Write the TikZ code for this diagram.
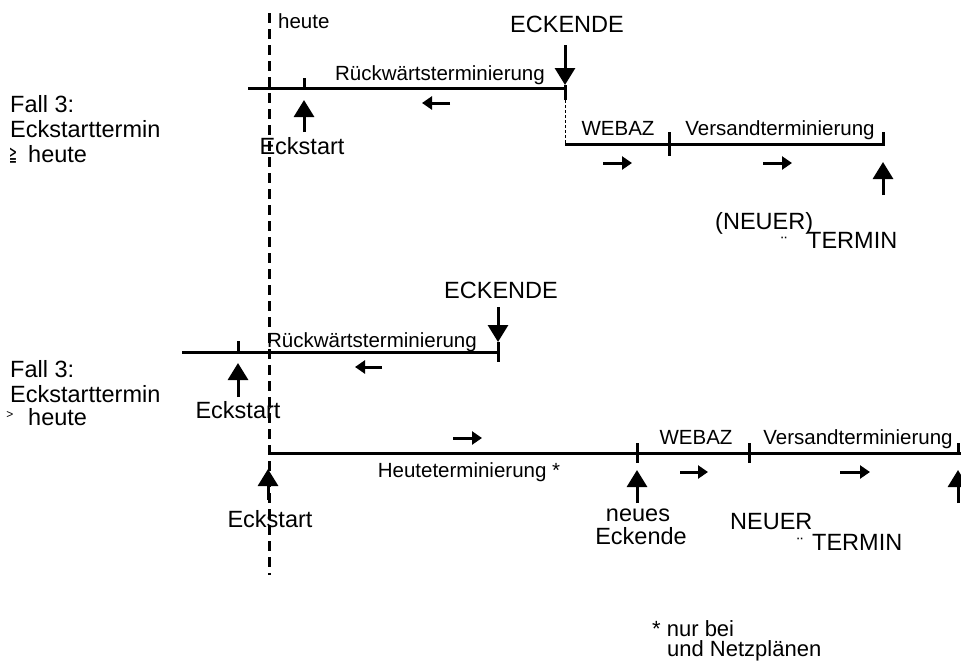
\documentclass[tikz,border=0pt]{standalone}
\usepackage{fontspec}
\setmainfont{Liberation Sans}
\newfontfamily\zeichen{DejaVu Sans}
\usetikzlibrary{positioning,arrows.meta}

\tikzset{
  zeitachse/.style={line width=3pt},
  heutelinie/.style={line width=3pt,dash pattern=on 10pt off 6pt},
  hilfslinie/.style={line width=1pt,dash pattern=on 3pt off 2pt},
  termin/.style={line width=3pt,-{Triangle[width=20pt,length=17pt]}},
  richtung/.style={line width=3pt,-{Triangle[width=13pt,length=10pt]}},
  gross/.style={inner sep=0pt,font=\fontsize{23.5}{25}\selectfont},
  klein/.style={inner sep=0pt,font=\fontsize{20.5}{22}\selectfont},
  fussnote/.style={inner sep=0pt,font=\fontsize{22}{22}\selectfont},
  punkte/.style={inner sep=0pt,font=\fontsize{18}{18}\selectfont},
}

\begin{document}
\begin{tikzpicture}[x=1pt,y=-1pt]
\useasboundingbox (0,0) rectangle (961,665);

\coordinate (h0) at (269,13);
\coordinate (h1) at (269,575);
\path[draw,heutelinie] (h0) -- (h1);
\node[klein,anchor=base west] (heute) at (278,28) {heute};

% Fall 3 oben
\node[gross,anchor=base west] (fall1) at (10,112) {Fall 3:};
\node[gross,anchor=base west] (est1) at (10,137) {Eckstarttermin};
\node[gross,anchor=base west] (heute1) at (28,162) {heute};
\node[inner sep=0pt,anchor=base] (ge1) at (13,161) {\zeichen\fontsize{21}{21}\selectfont\scalebox{0.45}[1]{≧}};

\coordinate (r1) at (248,88);
\coordinate (es1) at (304,88);
\coordinate (ee1) at (565,88);
\path[draw,zeitachse] (r1) -- (ee1);
\path[draw,zeitachse] (es1) -- ++(0,-10);
\path[draw,zeitachse] (565,85) -- (565,100);
\node[gross,anchor=base] (eckende1) at (567,32) {ECKENDE};
\coordinate (ee1o) at (565,45);
\path[draw,termin] (ee1o) -- (565,85);
\node[klein,anchor=base] (rw1) at (440,80) {Rückwärtsterminierung};
\coordinate (rw1a) at (450,103);
\coordinate (rw1b) at (422,103);
\path[draw,richtung] (rw1a) -- (rw1b);
\coordinate (es1u) at (304,132);
\coordinate (es1t) at (304,100);
\path[draw,termin] (es1u) -- (es1t);
\node[gross,anchor=base] (eckstart1) at (302,154) {Eckstart};

\coordinate (w1) at (565,144);
\coordinate (v1) at (669,144);
\coordinate (nt1) at (883,144);
\path[draw,hilfslinie] (565,100) -- (w1);
\path[draw,zeitachse] (w1) -- (nt1);
\path[draw,zeitachse] (669,132) -- (669,156);
\path[draw,zeitachse] (883,132) -- (883,145.5);
\node[klein,anchor=base] (webaz1) at (618,135) {WEBAZ};
\node[klein,anchor=base] (vs1) at (780,135) {Versandterminierung};
\coordinate (wa1) at (603,163);
\coordinate (wb1) at (632,163);
\path[draw,richtung] (wa1) -- (wb1);
\coordinate (va1) at (763,163);
\coordinate (vb1) at (792,163);
\path[draw,richtung] (va1) -- (vb1);
\coordinate (nt1u) at (883,195);
\coordinate (nt1t) at (883,162);
\path[draw,termin] (nt1u) -- (nt1t);
\node[gross,anchor=base west] (neuer1) at (715,229) {(NEUER)};
\node[punkte,anchor=base] (uml1) at (784,249) {¨};
\node[gross,anchor=base west] (termin1) at (807,248) {TERMIN};

% Fall 3 unten
\node[gross,anchor=base west] (fall2) at (10,377) {Fall 3:};
\node[gross,anchor=base west] (est2) at (10,402) {Eckstarttermin};
\node[gross,anchor=base west] (heute2) at (28,425) {heute};
\node[inner sep=0pt,font=\fontsize{12}{12}\selectfont] (gt2) at (10,415) {>};

\coordinate (r2) at (182,352);
\coordinate (es2) at (238,352);
\coordinate (ee2) at (498,352);
\path[draw,zeitachse] (r2) -- (ee2);
\path[draw,zeitachse] (es2) -- ++(0,-11);
\path[draw,zeitachse] (498,342) -- (498,362);
\node[gross,anchor=base] (eckende2) at (501,298) {ECKENDE};
\coordinate (ee2o) at (498,307);
\path[draw,termin] (ee2o) -- (498,342);
\node[klein,anchor=base] (rw2) at (372,347) {Rückwärtsterminierung};
\coordinate (rw2a) at (382,367);
\coordinate (rw2b) at (355,367);
\path[draw,richtung] (rw2a) -- (rw2b);
\coordinate (es2u) at (238,397);
\coordinate (es2t) at (238,363);
\path[draw,termin] (es2u) -- (es2t);
\node[gross,anchor=base] (eckstart2) at (238,418) {Eckstart};

\coordinate (s3) at (268,453);
\coordinate (ne3) at (637,453);
\coordinate (w3) at (749,453);
\coordinate (nt3) at (958,453);
\path[draw,zeitachse] (s3) -- (961,453);
\path[draw,zeitachse] (637,443) -- (637,463);
\path[draw,zeitachse] (749,443) -- (749,463);
\path[draw,zeitachse] (958,443) -- (nt3);
\coordinate (hta) at (453,438);
\coordinate (htb) at (482,438);
\path[draw,richtung] (hta) -- (htb);
\node[klein,anchor=base] (ht3) at (469,477) {Heuteterminierung *};
\coordinate (s3u) at (268,500);
\coordinate (s3t) at (268,469);
\path[draw,termin] (s3u) -- (s3t);
\node[gross,anchor=base] (eckstart3) at (270,527) {Eckstart};
\coordinate (ne3u) at (637,503);
\coordinate (ne3t) at (637,470);
\path[draw,termin] (ne3u) -- (ne3t);
\node[gross,anchor=base] (neues3) at (638,521) {neues};
\node[gross,anchor=base] (eckende3) at (641,544.5) {Eckende};
\node[klein,anchor=base] (webaz3) at (696,444) {WEBAZ};
\node[klein,anchor=base] (vs3) at (858,444) {Versandterminierung};
\coordinate (wa3) at (680,472);
\coordinate (wb3) at (708,472);
\path[draw,richtung] (wa3) -- (wb3);
\coordinate (va3) at (840,472);
\coordinate (vb3) at (870,472);
\path[draw,richtung] (va3) -- (vb3);
\coordinate (nt3u) at (958,503);
\coordinate (nt3t) at (958,470);
\path[draw,termin] (nt3u) -- (nt3t);
\node[gross,anchor=base west] (neuer3) at (730,529) {NEUER};
\node[punkte,anchor=base] (uml3) at (800,550) {¨};
\node[gross,anchor=base west] (termin3) at (812,550) {TERMIN};

\node[fussnote,anchor=base west] (fn1) at (652,636) {* nur bei};
\node[fussnote,anchor=base west] (fn2) at (667,656.5) {und Netzplänen};
\end{tikzpicture}
\end{document}
